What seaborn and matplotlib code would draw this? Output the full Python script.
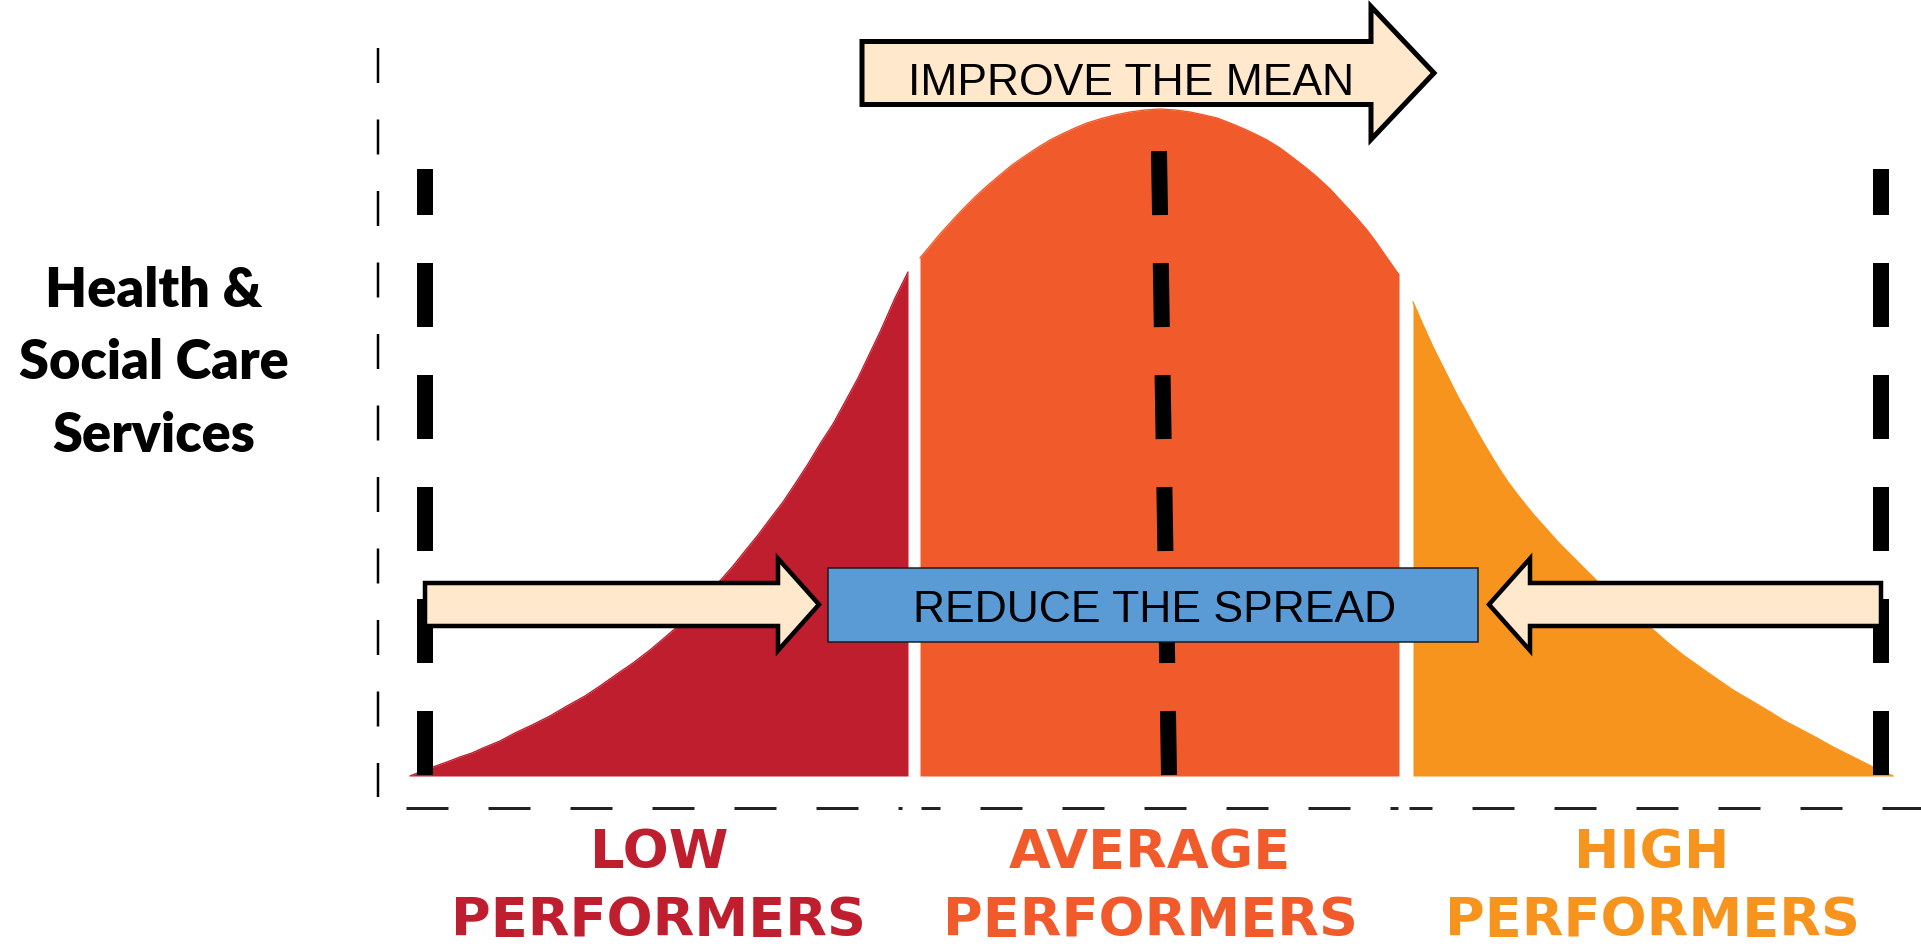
import matplotlib
matplotlib.use("Agg")
import matplotlib.pyplot as plt
from matplotlib.patches import FancyArrow, Rectangle
import seaborn as sns

# ---------------- data (canvas units, y downward) -------------
low_x = [410, 420, 433, 447, 460, 472, 483, 500, 515, 532, 550, 567, 585, 600, 617, 633, 650, 663,
         677, 690, 705, 719, 733, 745, 758, 770, 783, 795, 808, 820, 833, 845, 858, 869, 880, 888,
         895, 902, 908]
low_y = [776, 772, 767, 762, 757, 753, 748, 741, 733, 725, 716, 706, 696, 686, 674, 663, 650, 639,
         627, 614, 598, 582, 566, 551, 535, 519, 502, 484, 464, 444, 424, 402, 378, 355, 332, 314,
         298, 284, 272]

avg_x = [920, 930, 940, 950, 962, 975, 987, 1000, 1012, 1025, 1037, 1050, 1062, 1075, 1087, 1100,
         1115, 1130, 1145, 1160, 1175, 1190, 1204, 1217, 1230, 1242, 1255, 1267, 1280, 1292, 1305,
         1317, 1330, 1342, 1355, 1367, 1376, 1385, 1392, 1399]
avg_y = [258, 246, 234, 223, 210, 197, 186, 175, 165, 156, 148, 140, 134, 128, 123, 119,
         115, 112, 110, 109, 110, 112, 115, 118, 123, 128, 134, 140, 148, 157, 167,
         177, 189, 202, 216, 230, 242, 255, 265, 275]

high_x = [1413, 1423, 1433, 1442, 1450, 1458, 1467, 1475, 1483, 1492, 1500, 1508, 1517, 1525, 1533,
          1542, 1550, 1558, 1567, 1575, 1583, 1592, 1600, 1608, 1617, 1625, 1633, 1642, 1650, 1667,
          1683, 1700, 1717, 1733, 1750, 1767, 1783, 1800, 1817, 1833, 1853, 1873, 1893]
high_y = [302, 325, 347, 365, 381, 397, 413, 428, 442, 457, 470, 482, 494, 504, 514,
          524, 533, 542, 551, 559, 567, 576, 584, 591, 599, 606, 613, 620, 627, 642,
          655, 667, 679, 690, 700, 710, 720, 729, 738, 747, 757, 767, 776]

baseline = 776

categories = ["LOW", "AVERAGE", "HIGH"]
category_sub = "PERFORMERS"
category_x = [659, 1150, 1652]
category_colors = ["#BE1E2D", "#F15A2B", "#F7941E"]

left_label = ["Health &", "Social Care", "Services"]

improve_text = "IMPROVE THE MEAN"
spread_text = "REDUCE THE SPREAD"

# reference (dashed) lines: side limits and mean
limit_x = [425, 1881]
limit_top = 169
mean_line_x = [1169, 1159]
mean_line_y = [775, 151]

# ---------------- styling ----------------
sns.set_theme(style="white")
plt.rcParams["lines.scale_dashes"] = False
PT = 0.72  # points per pixel at dpi 100

fig = plt.figure(figsize=(19.21, 9.51), dpi=100)
ax = fig.add_axes([0, 0, 1, 1])
ax.set_xlim(0, 1921)
ax.set_ylim(951, 0)
ax.axis("off")

# ---------------- bell curve regions ----------------
for xs, ys, col in [(low_x, low_y, category_colors[0]),
                    (avg_x, avg_y, category_colors[1]),
                    (high_x, high_y, category_colors[2])]:
    ax.fill_between(xs, ys, baseline, color=col, lw=0, zorder=2)
    sns.lineplot(x=xs, y=ys, color=col, lw=1.0, sort=False, ax=ax, zorder=2)

# ---------------- axes (thin dashed) ----------------
ax.plot([378, 378], [48, 797], color="black", lw=2.5 * PT,
        linestyle=(0, (35 * PT, 36.5 * PT)), dash_capstyle="butt", zorder=3)
axis_segments = [(406, 902), (921, 1398), (1409, 1921)]
for s, e in axis_segments:
    off = ((s - 406) % 82) * PT
    ax.plot([s, e], [808, 808], color="#222222", lw=3 * PT,
            linestyle=(off, (42 * PT, 40 * PT)), dash_capstyle="butt", zorder=3)

# ---------------- thick dashed lines ----------------
thick = dict(color="black", lw=16 * PT, linestyle=(0, (64 * PT, 48 * PT)),
             dash_capstyle="butt", zorder=4)
for lx in limit_x:
    ax.plot([lx, lx], [775, limit_top], **thick)
ax.plot(mean_line_x, mean_line_y, **thick)

# ---------------- arrows ----------------
arrow_fc = "#FFE8CC"
improve = FancyArrow(862, 73, 572, 0, width=63, head_width=133, head_length=63,
                     length_includes_head=True, fc=arrow_fc, ec="black",
                     lw=5 * PT, joinstyle="miter", zorder=6)
ax.add_patch(improve)
ax.text(1131, 95, improve_text, ha="center", va="baseline", fontsize=32,
        family="Liberation Sans", color="black", zorder=7)

left_arrow = FancyArrow(425, 604.5, 394, 0, width=43, head_width=92, head_length=41,
                        length_includes_head=True, fc=arrow_fc, ec="black",
                        lw=4.5 * PT, joinstyle="miter", zorder=6)
right_arrow = FancyArrow(1881, 604.5, -392, 0, width=43, head_width=92, head_length=41,
                         length_includes_head=True, fc=arrow_fc, ec="black",
                         lw=4.5 * PT, joinstyle="miter", zorder=6)
ax.add_patch(left_arrow)
ax.add_patch(right_arrow)

box = Rectangle((828, 568), 650, 74, fc="#5B9BD5", ec="#1a1a1a", lw=1.5 * PT, zorder=6)
ax.add_patch(box)
ax.text(1155, 622, spread_text, ha="center", va="baseline", fontsize=32,
        family="Liberation Sans", color="black", zorder=7)

# ---------------- category labels ----------------
for name, cx, col in zip(categories, category_x, category_colors):
    ax.text(cx, 868, name, ha="center", va="baseline", fontsize=39,
            fontweight="bold", family="DejaVu Sans", color=col)
    ax.text(cx, 936, category_sub, ha="center", va="baseline", fontsize=39,
            fontweight="bold", family="DejaVu Sans", color=col)

# ---------------- left label ----------------
for line, by in zip(left_label, [307, 379, 452]):
    ax.text(154, by, line, ha="center", va="baseline", fontsize=39,
            fontweight="heavy", family="Lato", color="black")

fig.savefig("out.png", dpi=100)
